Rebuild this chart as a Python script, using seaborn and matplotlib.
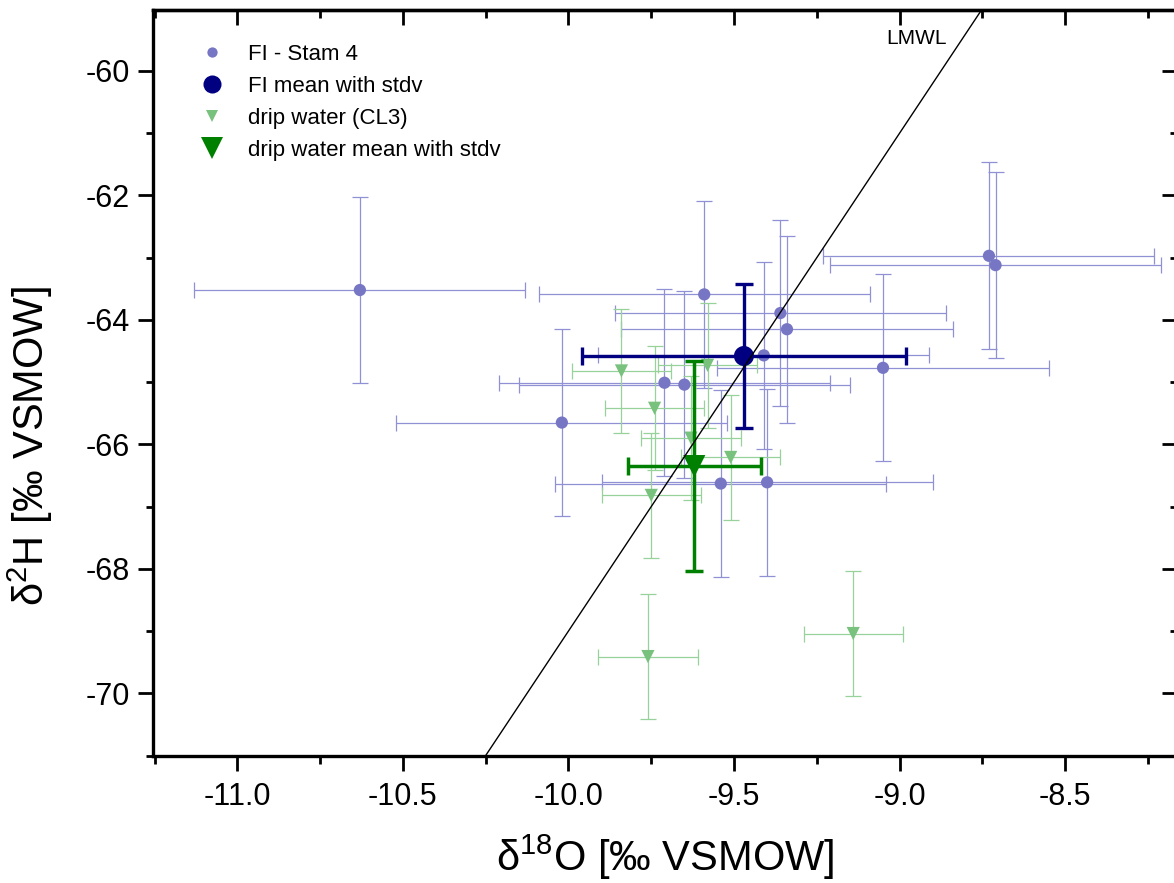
import numpy as np
import pandas as pd
import matplotlib
matplotlib.use('Agg')
import matplotlib.pyplot as plt
import seaborn as sns
from matplotlib.ticker import MultipleLocator, FormatStrFormatter
from matplotlib.lines import Line2D

# ---------------- data ----------------
# FI - Stam 4 (fluid inclusions)
fi_d18o = [-10.63, -10.02, -9.71, -9.65, -9.59, -9.54, -9.40, -9.41, -9.36, -9.34, -9.05, -8.73, -8.71]
fi_d2h = [-63.52, -65.65, -65.01, -65.04, -63.59, -66.63, -66.61, -64.57, -63.89, -64.15, -64.77, -62.97, -63.12]
fi_d18o_err = [0.5, 0.5, 0.5, 0.5, 0.5, 0.5, 0.5, 0.5, 0.5, 0.5, 0.5, 0.5, 0.5]
fi_d2h_err = [1.5, 1.5, 1.5, 1.5, 1.5, 1.5, 1.5, 1.5, 1.5, 1.5, 1.5, 1.5, 1.5]

# FI mean with stdv
fi_mean_d18o = [-9.47]
fi_mean_d2h = [-64.58]
fi_mean_d18o_sd = [0.49]
fi_mean_d2h_sd = [1.16]

# drip water (CL3)
drip_d18o = [-9.84, -9.58, -9.74, -9.63, -9.51, -9.75, -9.76, -9.14]
drip_d2h = [-64.82, -64.73, -65.42, -65.90, -66.21, -66.82, -69.41, -69.04]
drip_d18o_err = [0.15, 0.15, 0.15, 0.15, 0.15, 0.15, 0.15, 0.15]
drip_d2h_err = [1.0, 1.0, 1.0, 1.0, 1.0, 1.0, 1.0, 1.0]

# drip water mean with stdv
drip_mean_d18o = [-9.62]
drip_mean_d2h = [-66.35]
drip_mean_d18o_sd = [0.20]
drip_mean_d2h_sd = [1.69]

# Local meteoric water line: d2H = slope * d18O + intercept
lmwl_slope = 8.0
lmwl_intercept = 11.0

legend_labels = ['FI - Stam 4', 'FI mean with stdv', 'drip water (CL3)', 'drip water mean with stdv']

# ---------------- style ----------------
sns.set_theme(style='ticks', rc={
    'axes.edgecolor': 'black', 'xtick.color': 'black', 'ytick.color': 'black',
    'text.color': 'black', 'axes.labelcolor': 'black', 'axes.unicode_minus': False,
})
plt.rcParams['font.family'] = ['Liberation Sans', 'DejaVu Sans']
plt.rcParams['mathtext.fontset'] = 'custom'
plt.rcParams['mathtext.rm'] = 'Liberation Sans'
plt.rcParams['mathtext.it'] = 'Liberation Sans:italic'
plt.rcParams['mathtext.bf'] = 'Liberation Sans:bold'
plt.rcParams['axes.unicode_minus'] = False

FI_C = '#7676C4'
FI_EB = '#9090D4'
FI_MEAN_C = '#000080'
DR_C = '#78C27E'
DR_EB = '#96D29A'
DR_MEAN_C = '#008000'

W, H = 1174, 883
fig = plt.figure(figsize=(W / 100, H / 100), dpi=100)
L, R, B, T = 153.3, 1177.0, 755.5, 10.0
ax = fig.add_axes([L / W, 1 - B / H, (R - L) / W, (B - T) / H])
ax.set_facecolor('white')

fi_df = pd.DataFrame({'d18O': fi_d18o, 'd2H': fi_d2h})
drip_df = pd.DataFrame({'d18O': drip_d18o, 'd2H': drip_d2h})

# individual FI
ax.errorbar(fi_d18o, fi_d2h, xerr=fi_d18o_err, yerr=fi_d2h_err, fmt='none',
            ecolor=FI_EB, elinewidth=0.9, capsize=6.0, capthick=0.9, zorder=2)
sns.scatterplot(data=fi_df, x='d18O', y='d2H', ax=ax, color=FI_C, marker='o',
                s=8.8 ** 2, edgecolor='none', linewidth=0, zorder=3, legend=False)

# individual drip water
ax.errorbar(drip_d18o, drip_d2h, xerr=drip_d18o_err, yerr=drip_d2h_err, fmt='none',
            ecolor=DR_EB, elinewidth=0.9, capsize=6.0, capthick=0.9, zorder=4)
sns.scatterplot(data=drip_df, x='d18O', y='d2H', ax=ax, color=DR_C, marker='v',
                s=9.5 ** 2, edgecolor='none', linewidth=0, zorder=5, legend=False)

# means
ax.errorbar(fi_mean_d18o, fi_mean_d2h, xerr=fi_mean_d18o_sd, yerr=fi_mean_d2h_sd, fmt='none',
            ecolor=FI_MEAN_C, elinewidth=2.4, capsize=6.7, capthick=2.4, zorder=6)
sns.scatterplot(x=fi_mean_d18o, y=fi_mean_d2h, ax=ax, color=FI_MEAN_C, marker='o',
                s=14.4 ** 2, edgecolor='none', linewidth=0, zorder=7, legend=False)
ax.errorbar(drip_mean_d18o, drip_mean_d2h, xerr=drip_mean_d18o_sd, yerr=drip_mean_d2h_sd, fmt='none',
            ecolor=DR_MEAN_C, elinewidth=2.5, capsize=6.8, capthick=2.5, zorder=8)
sns.scatterplot(x=drip_mean_d18o, y=drip_mean_d2h, ax=ax, color=DR_MEAN_C, marker='v',
                s=16 ** 2, edgecolor='none', linewidth=0, zorder=9, legend=False)

# LMWL
ax.axline((0, lmwl_intercept), slope=lmwl_slope, color='black', lw=1.0, zorder=10)
ax.text(-8.857, -59.475, 'LMWL', fontsize=15, ha='right', va='center', zorder=11)

# axes limits & ticks
ax.set_xlim(-11.254, -8.162)
ax.set_ylim(-71.0, -59.02)
ax.xaxis.set_major_locator(MultipleLocator(0.5))
ax.xaxis.set_minor_locator(MultipleLocator(0.25))
ax.yaxis.set_major_locator(MultipleLocator(2))
ax.yaxis.set_minor_locator(MultipleLocator(1))
ax.xaxis.set_major_formatter(FormatStrFormatter('%.1f'))
ax.yaxis.set_major_formatter(FormatStrFormatter('%d'))

ax.tick_params(which='both', direction='out', top=False, right=False, width=2.0, labelsize=22)
ax.tick_params(which='major', length=10.8)
ax.tick_params(which='minor', length=5.4)
ax.tick_params(axis='x', which='major', pad=8)
ax.tick_params(axis='y', which='major', pad=6)

for s in ax.spines.values():
    s.set_linewidth(2.4)
    s.set_visible(True)

secx = ax.secondary_xaxis('top')
secx.xaxis.set_major_locator(MultipleLocator(0.5))
secx.xaxis.set_minor_locator(MultipleLocator(0.25))
secx.tick_params(which='both', direction='in', labeltop=False, width=2.0)
secx.tick_params(which='major', length=10.8)
secx.tick_params(which='minor', length=5.4)
secx.spines['top'].set_linewidth(2.4)

secy = ax.secondary_yaxis('right')
secy.yaxis.set_major_locator(MultipleLocator(2))
secy.yaxis.set_minor_locator(MultipleLocator(1))
secy.tick_params(which='both', direction='in', labelright=False, width=2.0)
secy.tick_params(which='major', length=10.8)
secy.tick_params(which='minor', length=5.4)
secy.spines['right'].set_linewidth(2.4)

ax.set_xlabel('δ$^{18}$O [‰ VSMOW]', fontsize=30)
ax.set_ylabel('δ$^{2}$H [‰ VSMOW]', fontsize=30)
ax.xaxis.set_label_coords(0.5, -0.103)
ax.yaxis.set_label_coords(-0.096, 0.415)

# legend (markers only)
handles = [
    Line2D([], [], ls='none', marker='o', color=FI_C, markersize=7.4, markeredgewidth=0),
    Line2D([], [], ls='none', marker='o', color=FI_MEAN_C, markersize=13, markeredgewidth=0),
    Line2D([], [], ls='none', marker='v', color=DR_C, markersize=8.8, markeredgewidth=0),
    Line2D([], [], ls='none', marker='v', color=DR_MEAN_C, markersize=15.5, markeredgewidth=0),
]
ax.legend(handles, legend_labels, loc='upper left', bbox_to_anchor=(0.0467, 0.9550),
          frameon=False, fontsize=16, handlelength=1.0, handletextpad=1.10,
          labelspacing=0.50, borderpad=0, borderaxespad=0)

fig.savefig('out.png', dpi=100, facecolor='white')
